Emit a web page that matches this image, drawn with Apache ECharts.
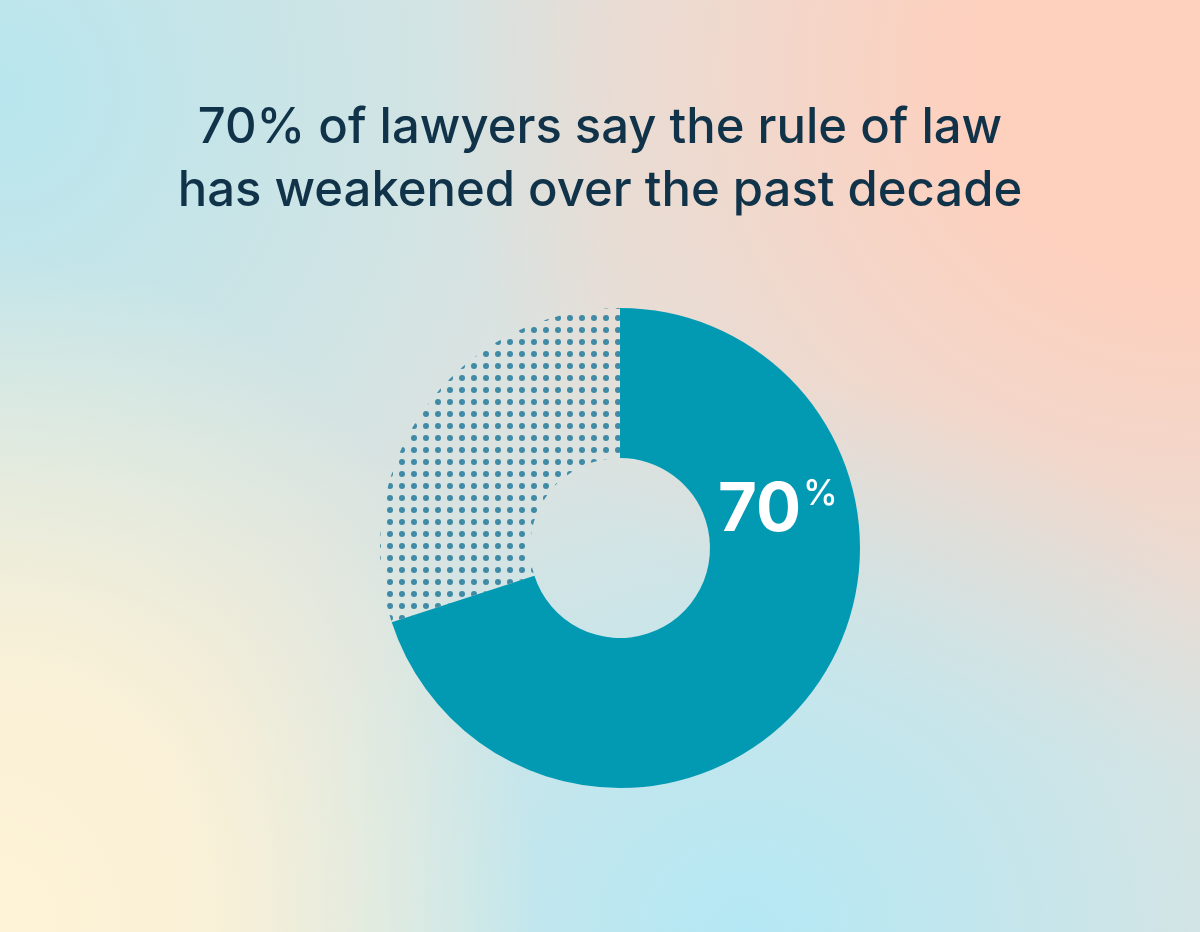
<!DOCTYPE html>
<html>
<head>
<meta charset="utf-8">
<script src="https://cdn.jsdelivr.net/npm/echarts@6/dist/echarts.min.js"></script>
<style>
  html, body { margin: 0; padding: 0; }
  body {
    width: 1200px; height: 932px; overflow: hidden;
    background:
      radial-gradient(ellipse 540px 680px at 0% 100%, rgba(254,243,214,1) 0%, rgba(254,243,214,0.85) 40%, rgba(254,243,214,0) 100%),
      radial-gradient(ellipse 620px 560px at 62% 100%, rgba(180,232,244,1) 0%, rgba(180,232,244,0.6) 45%, rgba(180,232,244,0) 100%),
      radial-gradient(ellipse 760px 700px at 100% 8%, rgba(254,208,190,1) 0%, rgba(254,208,190,1) 30%, rgba(254,208,190,0) 100%),
      radial-gradient(ellipse 640px 680px at 0% 10%, rgba(184,230,238,1) 0%, rgba(184,230,238,0.6) 40%, rgba(184,230,238,0) 100%),
      #dfe2de;
  }
  #main { width: 1200px; height: 932px; }
</style>
</head>
<body>
<div id="main"></div>
<script>
// 数据
var categories = ['Weakened', 'Other'];
var values = [70, 30];
var titleLines = ['70% of lawyers say the rule of law', 'has weakened over the past decade'];

// 圆点填充
function dotPattern(){
  var c = document.createElement('canvas');
  c.width = 12; c.height = 12;
  var ctx = c.getContext('2d');
  ctx.fillStyle = '#3f8aa4';
  ctx.beginPath();
  ctx.arc(6, 6, 3, 0, Math.PI * 2);
  ctx.fill();
  return c;
}

var myChart = echarts.init(document.getElementById('main'), null, {renderer: 'canvas'});
var option = {
  backgroundColor: 'transparent',
  animation: false,
  title: [{
    text: titleLines.join('\n'),
    left: 'center',
    top: 92,
    textStyle: {
      fontFamily: 'Inter',
      fontWeight: 500,
      fontSize: 49,
      lineHeight: 63,
      color: '#11334a'
    }
  }, {
    text: '{big|' + values[0] + '}{pct|%}',
    left: 713,
    top: 472,
    textStyle: {
      rich: {
        big: { fontFamily: 'Inter', fontWeight: 700, fontSize: 67, color: '#ffffff', verticalAlign: 'bottom' },
        pct: { fontFamily: 'Inter', fontWeight: 500, fontSize: 35, color: '#ffffff', verticalAlign: 'top', padding: [0, 0, 20, 2] }
      }
    }
  }],
  series: [{
    type: 'pie',
    center: [620, 548],
    radius: [90, 240],
    startAngle: 90,
    clockwise: true,
    label: { show: false },
    labelLine: { show: false },
    emphasis: { disabled: true },
    data: [
      { name: categories[0], value: values[0], itemStyle: { color: '#029ab2' } },
      { name: categories[1], value: values[1], itemStyle: { color: { image: dotPattern(), repeat: 'repeat' } } }
    ]
  }]
};
myChart.setOption(option);
</script>
</body>
</html>
